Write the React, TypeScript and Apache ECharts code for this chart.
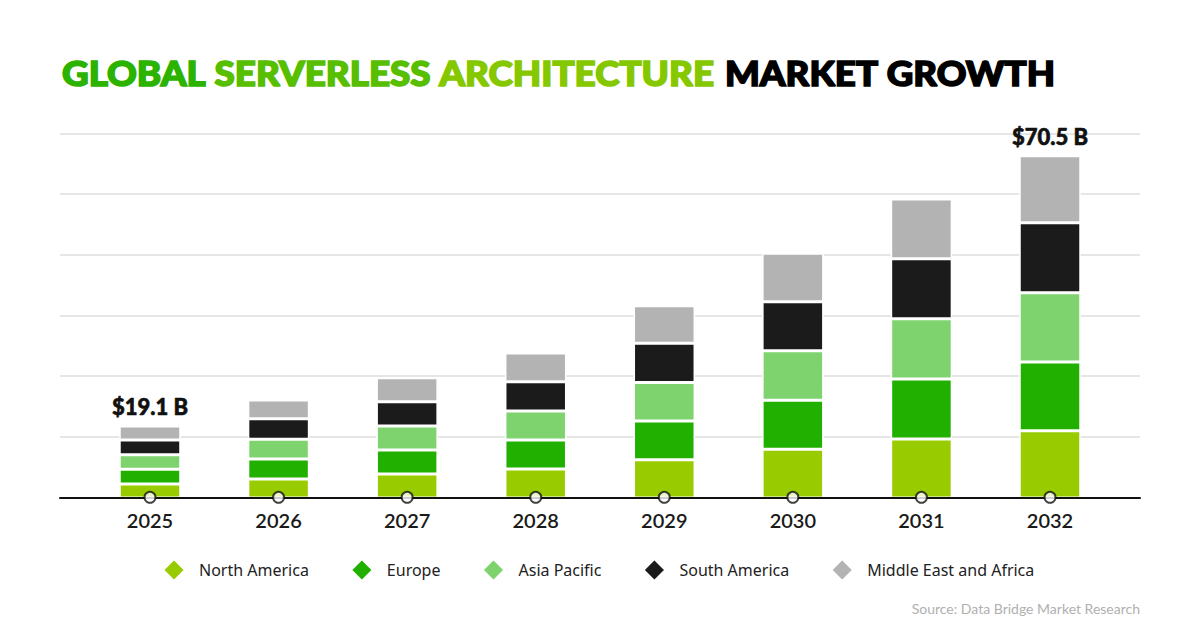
import React, { useEffect, useRef } from "react";
import * as echarts from "echarts";

// Forecast years on the category axis
const years = ["2025", "2026", "2027", "2028", "2029", "2030", "2031", "2032"];

// Regional market size (USD billion), stacked bottom to top
const northAmerica = [8.03, 8.98, 9.94, 10.89, 12.64, 14.64, 16.6, 18.18];
const europe = [2.8, 3.81, 4.58, 5.53, 7.39, 9.33, 11.42, 13.08];
const asiaPacific = [2.78, 3.77, 4.57, 5.51, 7.33, 9.42, 11.45, 13.19];
const southAmerica = [2.8, 3.88, 4.6, 5.56, 7.46, 9.35, 11.47, 13.33];
const middleEastAfrica = [2.67, 3.58, 4.58, 5.5, 7.16, 9.21, 11.35, 12.76];

const seriesNames = [
  "North America",
  "Europe",
  "Asia Pacific",
  "South America",
  "Middle East and Africa",
];
const seriesColors = ["#99cc00", "#22b000", "#7ed36e", "#1b1b1b", "#b3b3b3"];

// Value axis range (billions) and gridline step
const VALUE_MIN = 5.5;
const VALUE_MAX = 74.8;
const VALUE_STEP = 11.55;

// Years whose stacked total is annotated
const annotatedYears = ["2025", "2032"];

// Title words, with the green shading running left to right
const titleWords = ["GLOBAL", "SERVERLESS", "ARCHITECTURE", "MARKET", "GROWTH"];
const titleColors = ["#2bb300", "#57be00", "#86c800", "#000000", "#000000"];
const SOURCE = "Source: Data Bridge Market Research";

function measure(text: string, font: string): number {
  const ctx = document.createElement("canvas").getContext("2d");
  if (!ctx) return 0;
  ctx.font = font;
  return ctx.measureText(text).width;
}

export default function App() {
  const ref = useRef<HTMLDivElement>(null);

  useEffect(() => {
    if (!ref.current) return;
    const chart = echarts.init(ref.current, undefined, { renderer: "svg" });

    const stacks = [northAmerica, europe, asiaPacific, southAmerica, middleEastAfrica];
    const totals = years.map((_, i) => stacks.reduce((s, arr) => s + arr[i], 0));

    // Title: green part spans 62..714, black part 725..1055
    const titleFont = "900 35px 'Lato Black', Lato";
    const space = measure(" ", titleFont) || 9;
    const widths = titleWords.map((w) => measure(w, titleFont) || w.length * 24);
    const greenNatural = widths[0] + widths[1] + widths[2] + 2 * space;
    const blackNatural = widths[3] + widths[4] + space;
    const greenScale = 652 / greenNatural;
    const blackScale = 330 / blackNatural;
    const titleX: number[] = [];
    let gx = 62;
    for (let i = 0; i < 3; i++) {
      titleX.push(gx);
      gx += (widths[i] + space) * greenScale;
    }
    let bx = 725;
    for (let i = 3; i < 5; i++) {
      titleX.push(bx);
      bx += (widths[i] + space) * blackScale;
    }
    const titleGraphics = titleWords.map((w, i) => ({
      type: "text",
      x: titleX[i],
      y: 72.5,
      scaleX: i < 3 ? greenScale : blackScale,
      style: {
        x: 0,
        y: 0,
        text: w,
        font: titleFont,
        verticalAlign: "middle",
        align: "left",
        fill: titleColors[i],
        stroke: titleColors[i],
        lineWidth: 1.6,
      },
    }));

    const barSeries = stacks.map((arr, si) => ({
      name: seriesNames[si],
      type: "bar",
      stack: "total",
      xAxisIndex: 1,
      yAxisIndex: 1,
      barWidth: 61.5,
      clip: true,
      itemStyle: { color: seriesColors[si], borderColor: "#ffffff", borderWidth: 1.5 },
      data:
        si === stacks.length - 1
          ? arr.map((v, i) =>
              annotatedYears.includes(years[i])
                ? { value: v, label: { show: true } }
                : v
            )
          : arr,
      label: {
        show: false,
        position: "top",
        distance: 8,
        formatter: (p: any) => `$${totals[p.dataIndex].toFixed(1)} B`,
        fontFamily: "Lato",
        fontWeight: 900,
        fontSize: 22,
        color: "#111111",
        textBorderColor: "#111111",
        textBorderWidth: 0.6,
      },
    }));

    chart.setOption({
      animation: false,
      backgroundColor: "#ffffff",
      grid: [
        { left: 60, right: 60, top: 133.3, bottom: 142.7 },
        { left: 85.7, right: 85.7, top: 133.3, bottom: 142.7 },
      ],
      xAxis: [
        {
          gridIndex: 0,
          type: "value",
          min: 0,
          max: 1,
          z: 10,
          axisLine: { show: true, lineStyle: { color: "#111111", width: 2 } },
          axisTick: { show: false },
          axisLabel: { show: false },
          splitLine: { show: false },
        },
        {
          gridIndex: 1,
          type: "category",
          data: years,
          axisLine: { show: false },
          axisTick: { show: false },
          axisLabel: {
            margin: 13,
            fontFamily: "Lato",
            fontWeight: 600,
            fontSize: 20,
            color: "#1a1a1a",
          },
        },
      ],
      yAxis: [
        {
          gridIndex: 0,
          type: "value",
          min: 0,
          max: 6,
          interval: 1,
          axisLine: { show: false },
          axisTick: { show: false },
          axisLabel: { show: false },
          splitLine: { show: true, lineStyle: { color: "#e6e6e6", width: 2 } },
        },
        {
          gridIndex: 1,
          type: "value",
          min: VALUE_MIN,
          max: VALUE_MAX,
          interval: VALUE_STEP,
          axisLine: { show: false },
          axisTick: { show: false },
          axisLabel: { show: false },
          splitLine: { show: false },
        },
      ],
      legend: {
        data: seriesNames,
        left: 157,
        top: 553,
        icon: "diamond",
        itemWidth: 22,
        itemHeight: 22,
        itemGap: 41,
        selectedMode: false,
        textStyle: {
          fontFamily: "Noto Sans",
          fontSize: 16,
          color: "#222222",
          padding: [0, 0, 0, 9],
        },
      },
      series: [
        ...barSeries,
        {
          name: "baseline",
          type: "scatter",
          xAxisIndex: 1,
          yAxisIndex: 1,
          clip: false,
          silent: true,
          z: 20,
          symbol: "circle",
          symbolSize: 11,
          itemStyle: { color: "#ffffff", borderColor: "#111111", borderWidth: 2 },
          data: years.map(() => VALUE_MIN),
        },
      ],
      graphic: [
        ...titleGraphics,
        {
          type: "text",
          right: 60,
          top: 601,
          style: {
            text: SOURCE,
            font: "400 14px Lato",
            fill: "#b0b0b0",
          },
        },
      ],
    });

    return () => chart.dispose();
  }, []);

  return (
    <div
      ref={ref}
      style={{ position: "fixed", left: 0, top: 0, width: 1200, height: 640 }}
    />
  );
}
